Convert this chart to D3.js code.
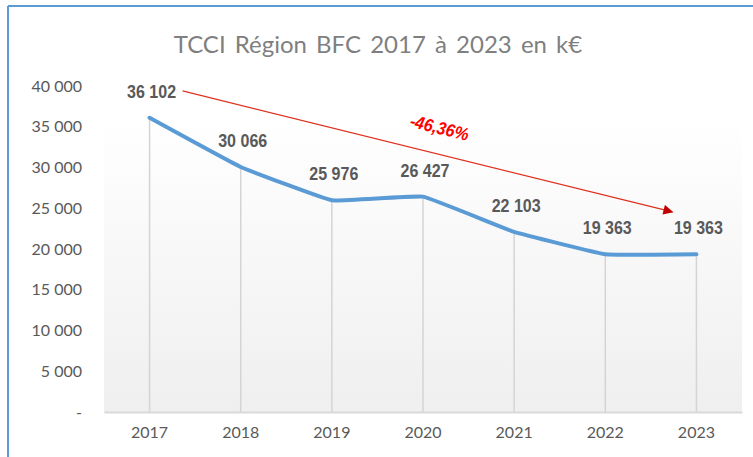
<!DOCTYPE html>
<html>
<head>
<meta charset="utf-8">
<script src="https://cdn.jsdelivr.net/npm/d3@7"></script>
<style>
  body { margin: 0; background: #fff; }
  svg { display: block; }
</style>
</head>
<body>
<svg id="chart"></svg>
<script>
// data
const years = ["2017", "2018", "2019", "2020", "2021", "2022", "2023"];
const values = [36102, 30066, 25976, 26427, 22103, 19363, 19363];
const yTicks = [0, 5000, 10000, 15000, 20000, 25000, 30000, 35000, 40000];
const trendLabel = "-46,36%";

const W = 753, H = 457;
const margin = { top: 86, right: 11, bottom: 45, left: 104 };
const width = W - margin.left - margin.right;
const height = H - margin.top - margin.bottom;

const svg = d3.select("#chart").attr("width", W).attr("height", H);

const defs = svg.append("defs");
const grad = defs.append("linearGradient")
    .attr("id", "bg").attr("x1", 0).attr("y1", 0).attr("x2", 0).attr("y2", 1);
grad.append("stop").attr("offset", "0%").attr("stop-color", "#ffffff");
grad.append("stop").attr("offset", "10%").attr("stop-color", "#ffffff");
grad.append("stop").attr("offset", "100%").attr("stop-color", "#efefef");

const arrowHead = defs.append("marker")
    .attr("id", "arrow")
    .attr("viewBox", "0 0 10 10")
    .attr("refX", 9).attr("refY", 5)
    .attr("markerWidth", 14).attr("markerHeight", 10)
    .attr("markerUnits", "userSpaceOnUse")
    .attr("orient", "auto");
arrowHead.append("path").attr("d", "M0,0 L10,5 L0,10 Z").attr("fill", "#c00000");

// frame (chart border)
svg.append("line").attr("x1", 8).attr("x2", W).attr("y1", 6).attr("y2", 6)
    .attr("stroke", "#5b9bd5").attr("stroke-width", 2);
svg.append("line").attr("x1", 8).attr("x2", 8).attr("y1", 6).attr("y2", H)
    .attr("stroke", "#5b9bd5").attr("stroke-width", 2);

// title
svg.append("text")
    .attr("x", 378).attr("y", 53)
    .attr("text-anchor", "middle")
    .attr("font-family", "Lato, sans-serif")
    .attr("font-size", 24)
    .attr("word-spacing", 3)
    .attr("fill", "#7f7f7f")
    .text("TCCI Région BFC 2017 à 2023 en k€");

const g = svg.append("g").attr("transform", "translate(" + margin.left + "," + margin.top + ")");

const x = d3.scaleBand().domain(years).range([0, width]);
const y = d3.scaleLinear().domain([0, 40000]).range([height, 0]);
const cx = d => x(d) + x.bandwidth() / 2;

g.append("rect").attr("x", 0).attr("y", 0).attr("width", width).attr("height", height)
    .attr("fill", "url(#bg)");

// drop lines
g.selectAll(".drop").data(values).join("line")
    .attr("x1", (d, i) => cx(years[i])).attr("x2", (d, i) => cx(years[i]))
    .attr("y1", d => y(d)).attr("y2", height)
    .attr("stroke", "#d4d4d4").attr("stroke-width", 1.5);

// x axis
const xAxis = g.append("g")
    .attr("transform", "translate(0," + height + ")")
    .call(d3.axisBottom(x).tickSize(0).tickPadding(15));
xAxis.select(".domain").attr("stroke", "#d9d9d9").attr("stroke-width", 2);
xAxis.selectAll("text")
    .attr("font-family", "Lato, sans-serif")
    .attr("font-size", 16).attr("fill", "#595959");

// y axis
const fmt = v => v === 0 ? "-" : d3.format(",")(v).replace(",", " ");
const yAxis = g.append("g")
    .call(d3.axisLeft(y).tickValues(yTicks).tickSize(0).tickPadding(22).tickFormat(fmt));
yAxis.select(".domain").remove();
yAxis.selectAll("text")
    .attr("font-family", "Lato, sans-serif")
    .attr("font-size", 16).attr("fill", "#595959");

// line
const line = d3.line()
    .x((d, i) => cx(years[i]))
    .y(d => y(d))
    .curve(d3.curveCardinal.tension(0.75));
g.append("path").datum(values)
    .attr("fill", "none")
    .attr("stroke", "#5b9bd5")
    .attr("stroke-width", 4)
    .attr("stroke-linecap", "round")
    .attr("d", line);

// data labels
g.selectAll(".lbl").data(values).join("text")
    .attr("x", (d, i) => cx(years[i]) + 2)
    .attr("y", d => y(d) - 20)
    .attr("text-anchor", "middle")
    .attr("font-family", "'Liberation Sans', Arial, sans-serif")
    .attr("font-weight", "bold")
    .attr("font-size", 18)
    .attr("textLength", 49)
    .attr("lengthAdjust", "spacingAndGlyphs")
    .attr("fill", "#595959")
    .text(d => fmt(d));

// trend arrow (in data space)
const arrowFrom = { year: "2017", dx: 33, value: 39400 };
const arrowTo = { year: "2023", dx: -24, value: 24550 };
const ax1 = cx(arrowFrom.year) + arrowFrom.dx, ay1 = y(arrowFrom.value);
const ax2 = cx(arrowTo.year) + arrowTo.dx, ay2 = y(arrowTo.value);
g.append("line")
    .attr("x1", ax1).attr("y1", ay1).attr("x2", ax2).attr("y2", ay2)
    .attr("stroke", "#e0301e").attr("stroke-width", 1.2)
    .attr("marker-end", "url(#arrow)");

const angle = Math.atan2(ay2 - ay1, ax2 - ax1) * 180 / Math.PI;
const tx = cx("2020") + 15, ty = y(34150);
g.append("text")
    .attr("transform", "translate(" + tx + "," + ty + ") rotate(" + angle + ")")
    .attr("text-anchor", "middle")
    .attr("font-family", "'Liberation Sans', Arial, sans-serif")
    .attr("font-weight", "bold")
    .attr("font-style", "italic")
    .attr("font-size", 18)
    .attr("textLength", 60)
    .attr("lengthAdjust", "spacingAndGlyphs")
    .attr("fill", "#ff0000")
    .text(trendLabel);
</script>
</body>
</html>
